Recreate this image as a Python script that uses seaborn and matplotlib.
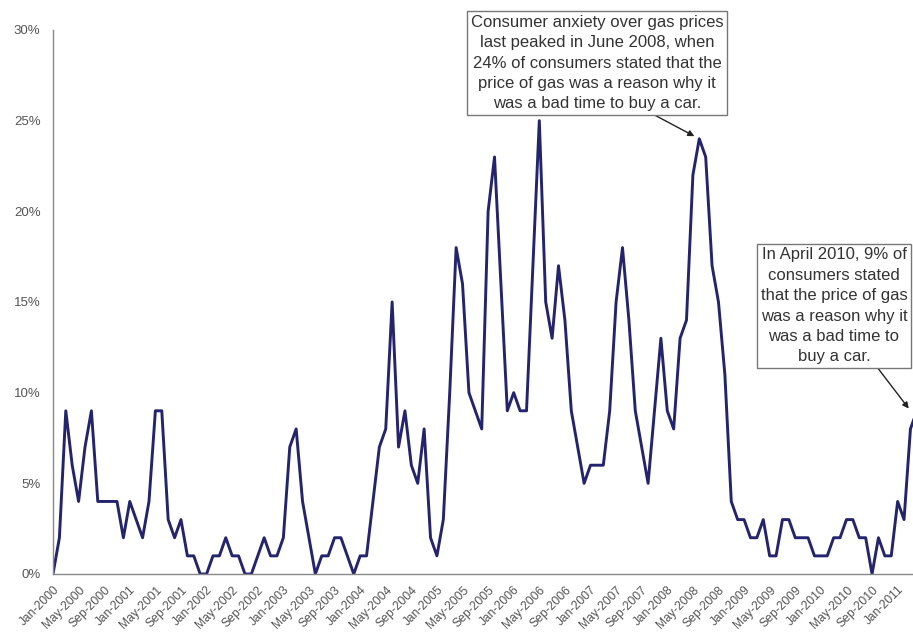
import numpy as np
import pandas as pd
import matplotlib
matplotlib.use("Agg")
import matplotlib.pyplot as plt
import seaborn as sns

# Share of consumers (percent) citing the price of gas as a reason it was a
# bad time to buy a car, monthly from Jan 2000 to Apr 2011.
months = pd.date_range("2000-01-01", "2011-04-01", freq="MS")
gas_pct = [
    0, 2, 9, 6, 4, 7, 9, 4, 4, 4, 4, 2,        # 2000
    4, 3, 2, 4, 9, 9, 3, 2, 3, 1, 1, 0,        # 2001
    0, 1, 1, 2, 1, 1, 0, 0, 1, 2, 1, 1,        # 2002
    2, 7, 8, 4, 2, 0, 1, 1, 2, 2, 1, 0,        # 2003
    1, 1, 4, 7, 8, 15, 7, 9, 6, 5, 8, 2,       # 2004
    1, 3, 10, 18, 16, 10, 9, 8, 20, 23, 16, 9, # 2005
    10, 9, 9, 17, 25, 15, 13, 17, 14, 9, 7, 5, # 2006
    6, 6, 6, 9, 15, 18, 14, 9, 7, 5, 9, 13,    # 2007
    9, 8, 13, 14, 22, 24, 23, 17, 15, 11, 4, 3, # 2008
    3, 2, 2, 3, 1, 1, 3, 3, 2, 2, 2, 1,        # 2009
    1, 1, 2, 2, 3, 3, 2, 2, 0, 2, 1, 1,        # 2010
    4, 3, 8, 9,                                # 2011
]
tick_positions = list(range(0, len(gas_pct), 4))
tick_labels = [months[i].strftime("%b-%Y") for i in tick_positions]
y_ticks = [0, 5, 10, 15, 20, 25, 30]
y_labels = [f"{v}%" for v in y_ticks]

peak_note = ("Consumer anxiety over gas prices\n"
             "last peaked in June 2008, when\n"
             "24% of consumers stated that the\n"
             "price of gas was a reason why it\n"
             "was a bad time to buy a car.")
latest_note = ("In April 2010, 9% of\n"
               "consumers stated\n"
               "that the price of gas\n"
               "was a reason why it\n"
               "was a bad time to\n"
               "buy a car.")

sns.set_style("white")
plt.rcParams["font.family"] = ["Liberation Sans", "DejaVu Sans"]

W, H = 913, 639
fig = plt.figure(figsize=(W / 100, H / 100), dpi=100)
ax = fig.add_axes([53 / W, 65 / H, 860 / W, (574 - 30) / H])

df = pd.DataFrame({"month": np.arange(len(gas_pct)), "pct": gas_pct})
sns.lineplot(data=df, x="month", y="pct", color="#24246e", lw=2.1, ax=ax)

ax.set_xlim(0, 134.4)
ax.set_ylim(0, 30)
ax.set_xlabel("")
ax.set_ylabel("")

ax.set_yticks(y_ticks)
ax.set_yticklabels(y_labels, fontsize=9.5, color="#555555")
ax.set_xticks(tick_positions)
ax.set_xticklabels(tick_labels, rotation=45, ha="right", rotation_mode="anchor",
                   fontsize=8.7, color="#555555")

for side in ("top", "right"):
    ax.spines[side].set_visible(False)
for side in ("left", "bottom"):
    ax.spines[side].set_color("#888888")
    ax.spines[side].set_linewidth(1.0)
ax.tick_params(axis="both", direction="out", length=4, width=1, color="#888888")
ax.tick_params(axis="y", pad=5)
ax.tick_params(axis="x", pad=3)

box = dict(boxstyle="square,pad=0.2", fc="white", ec="#777777", lw=1.0)

ax.annotate(peak_note, xy=(101, 24), xycoords="data",
            xytext=(597 / W, 1 - 63 / H), textcoords="figure fraction",
            ha="center", va="center", fontsize=12, linespacing=1.45,
            color="#333333", bbox=box,
            arrowprops=dict(arrowstyle="-|>", color="#222222", lw=1.0,
                            mutation_scale=9, relpos=(0.70, 0.0),
                            shrinkA=0, shrinkB=4))

ax.annotate(latest_note, xy=(134.0, 9.0), xycoords="data",
            xytext=(834 / W, 1 - 306 / H), textcoords="figure fraction",
            ha="center", va="center", fontsize=12, linespacing=1.45,
            color="#333333", bbox=box,
            arrowprops=dict(arrowstyle="-|>", color="#222222", lw=1.0,
                            mutation_scale=9, relpos=(0.78, 0.0),
                            shrinkA=0, shrinkB=2))

fig.savefig("out.png", dpi=100)
